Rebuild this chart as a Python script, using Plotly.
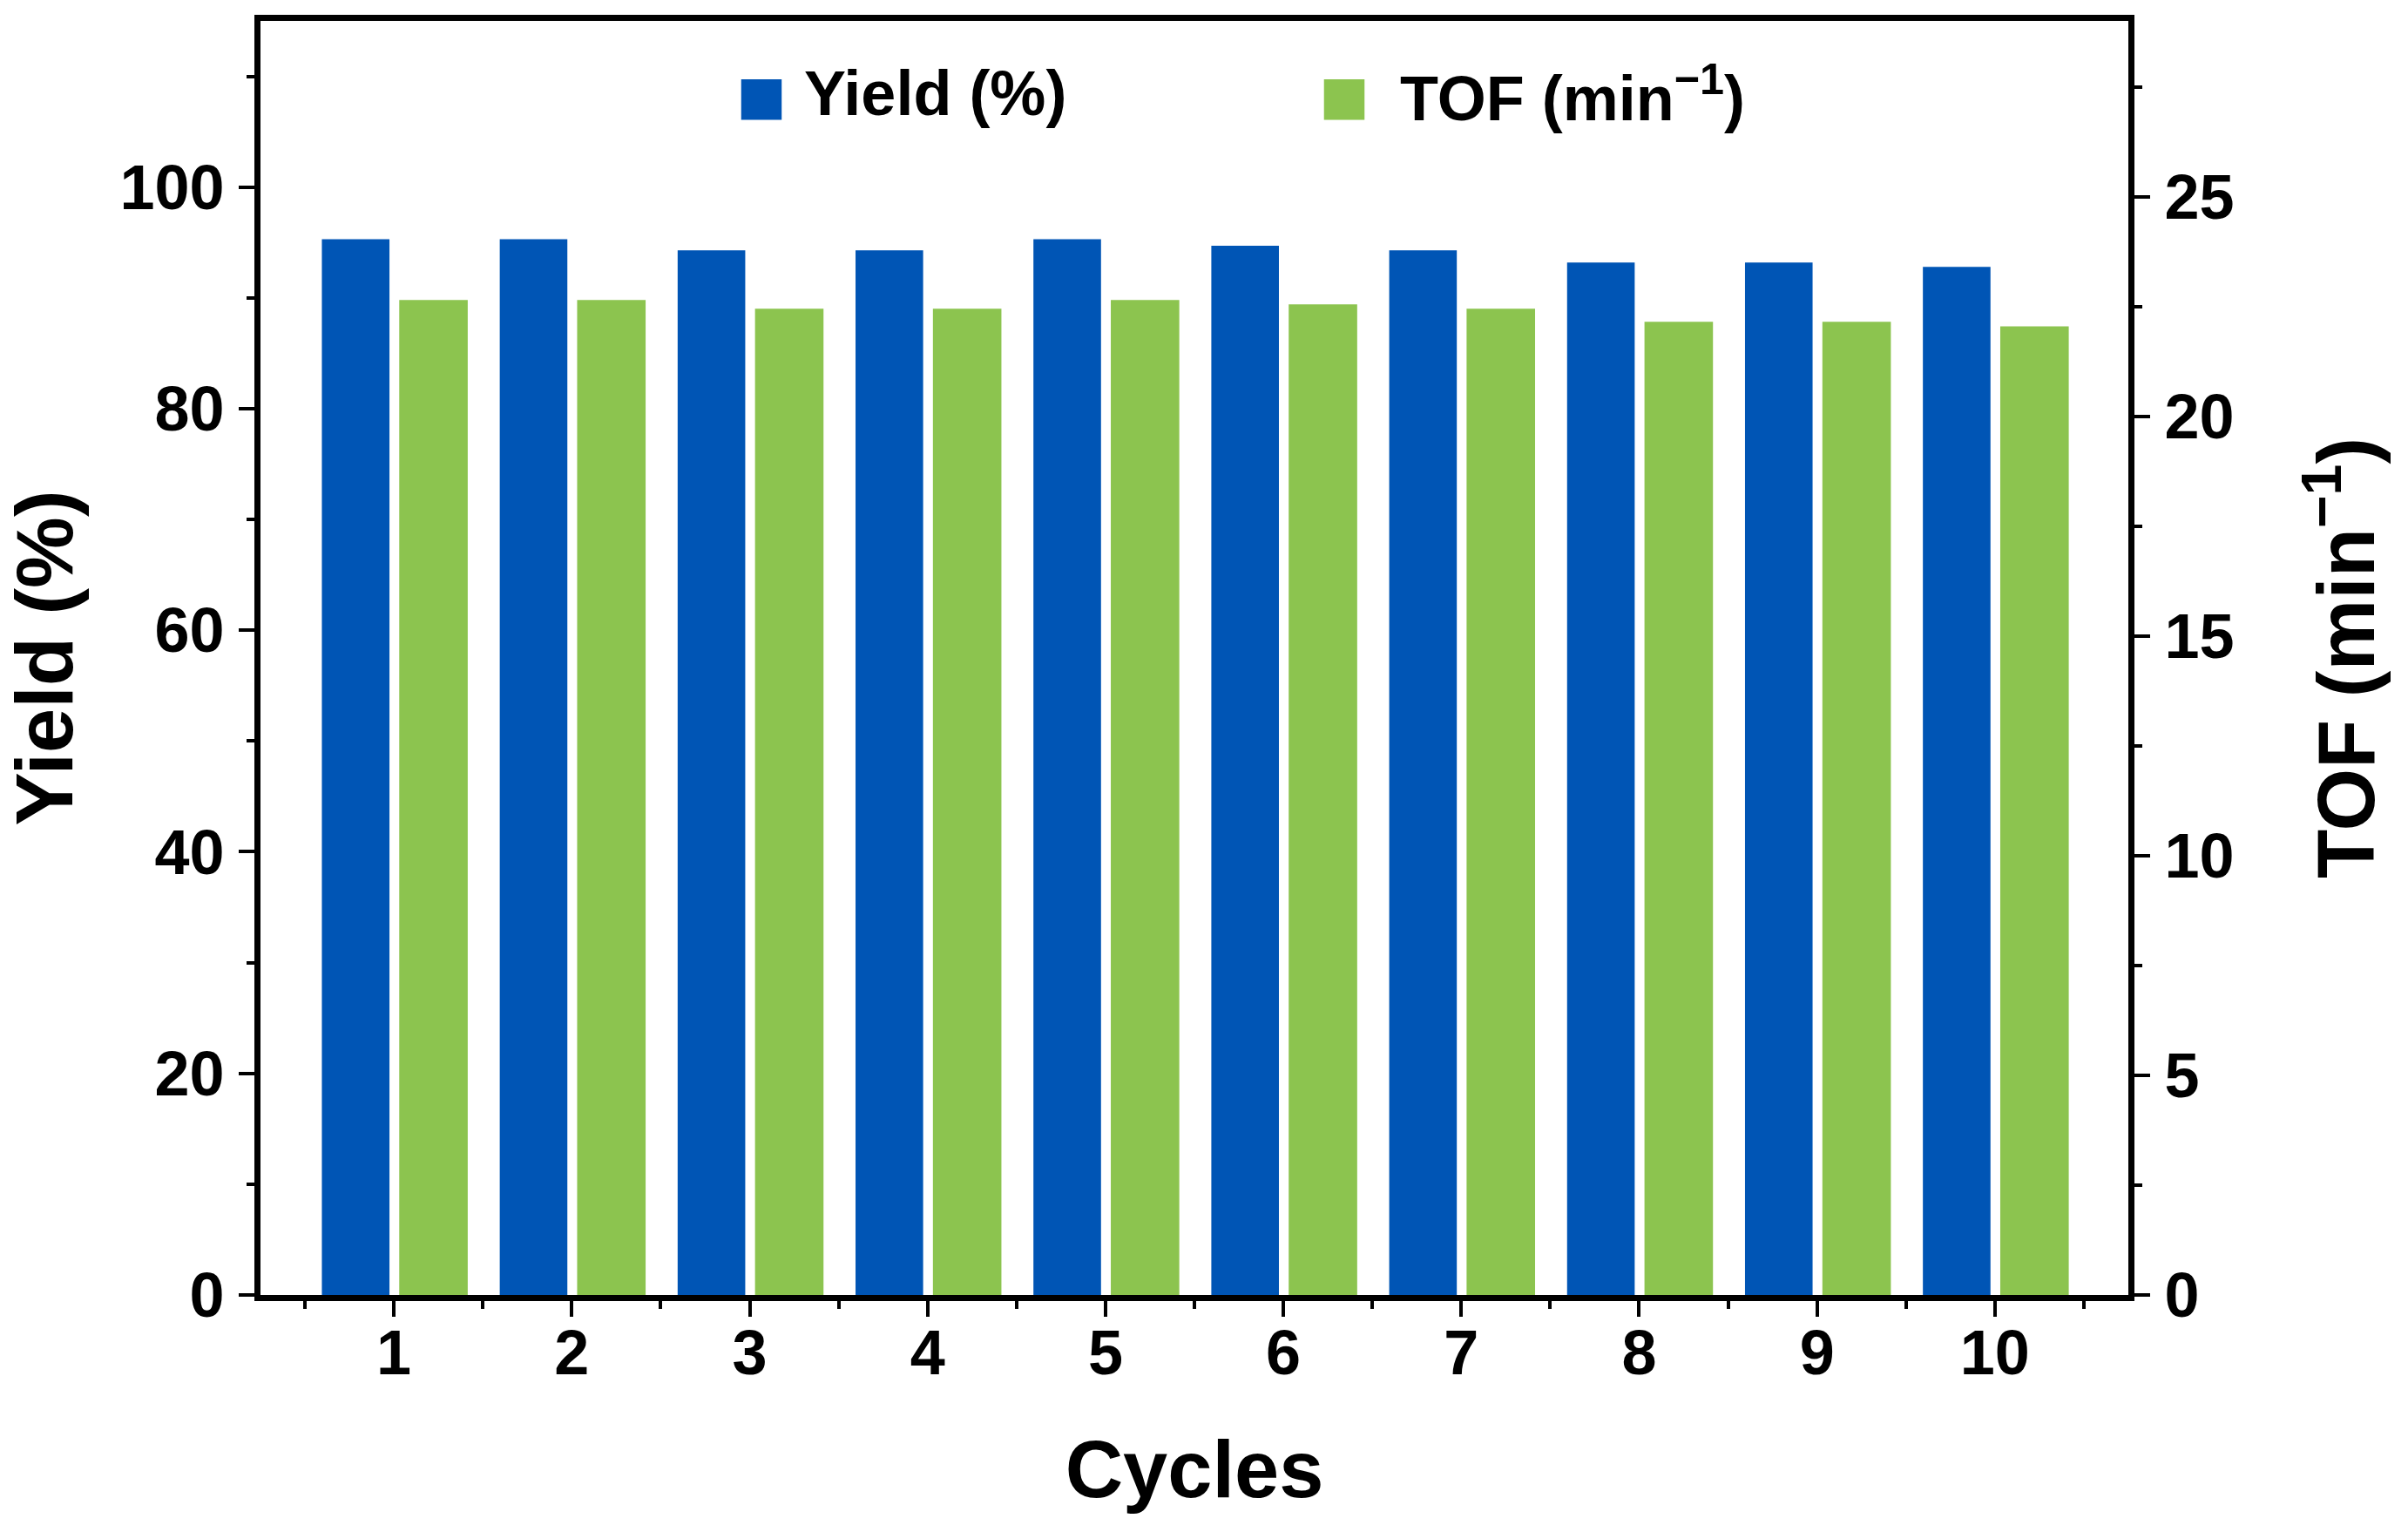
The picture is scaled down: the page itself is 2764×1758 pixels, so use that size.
import plotly.graph_objects as go

cycles = [1, 2, 3, 4, 5, 6, 7, 8, 9, 10]
yield_pct = [95.3, 95.3, 94.3, 94.3, 95.3, 94.7, 94.3, 93.2, 93.2, 92.8]
tof = [22.65, 22.65, 22.45, 22.45, 22.65, 22.55, 22.45, 22.15, 22.15, 22.05]
x_ticks = [1, 2, 3, 4, 5, 6, 7, 8, 9, 10]
y_ticks = [0, 20, 40, 60, 80, 100]
y2_ticks = [0, 5, 10, 15, 20, 25]
legend_labels = ["Yield (%)", "TOF (min<sup>−1</sup>)"]

BLUE = "#0055B5"
GREEN = "#8CC44F"
FONT = "Liberation Sans, Arial, sans-serif"

fig = go.Figure()
fig.add_trace(go.Bar(x=cycles, y=yield_pct, name=legend_labels[0], marker=dict(color=BLUE, line=dict(width=0)),
                     width=0.38, offset=-0.405, yaxis="y", showlegend=False))
fig.add_trace(go.Bar(x=cycles, y=tof, name=legend_labels[1], marker=dict(color=GREEN, line=dict(width=0)),
                     width=0.385, offset=0.03, yaxis="y2", showlegend=False))

tickfont = dict(family=FONT, size=72, color="black", weight="bold")
titlefont = dict(family=FONT, size=92, color="black", weight="bold")

fig.update_layout(
    width=2764, height=1758,
    margin=dict(l=299, r=321, t=24, b=272),
    paper_bgcolor="white", plot_bgcolor="white",
    barmode="overlay",
    xaxis=dict(range=[0.25, 10.75], tickmode="array", tickvals=x_ticks, ticktext=[str(v) for v in x_ticks],
               showline=True, linewidth=7, linecolor="black", mirror=True,
               ticks="outside", ticklen=18, tickwidth=4, tickcolor="black",
               minor=dict(tick0=0.5, dtick=1, ticks="outside", ticklen=9, tickwidth=4, tickcolor="black"),
               showgrid=False, zeroline=False, tickfont=tickfont, ticklabelstandoff=-20,
               title=dict(text="Cycles", font=titlefont, standoff=65)),
    yaxis=dict(range=[0, 115], tickmode="array", tickvals=y_ticks,
               showline=True, linewidth=7, linecolor="black",
               ticks="outside", ticklen=18, tickwidth=4, tickcolor="black",
               minor=dict(dtick=10, tick0=0, ticks="outside", ticklen=9, tickwidth=4, tickcolor="black"),
               showgrid=False, zeroline=False, tickfont=tickfont, ticklabelstandoff=2,
               title=dict(text="Yield (%)", font=titlefont, standoff=37)),
    yaxis2=dict(range=[0, 29], tickmode="array", tickvals=y2_ticks, overlaying="y", side="right",
                showline=True, linewidth=7, linecolor="black",
                ticks="outside", ticklen=18, tickwidth=4, tickcolor="black",
                minor=dict(dtick=2.5, tick0=0, ticks="outside", ticklen=9, tickwidth=4, tickcolor="black"),
                showgrid=False, zeroline=False, tickfont=tickfont, ticklabelstandoff=2,
                title=dict(text="TOF (min<sup>−1</sup>)", font=titlefont, standoff=100)),
)

legend_font = dict(family=FONT, size=72, color="black", weight="bold")
swatch_font = dict(family=FONT, size=96, weight="bold")
# legend swatches
fig.add_annotation(xref="paper", yref="paper", x=0.2682, y=0.9412, xanchor="center", yanchor="middle",
                   showarrow=False, font=dict(swatch_font, color=BLUE), text="■")
fig.add_annotation(xref="paper", yref="paper", x=0.5803, y=0.9412, xanchor="center", yanchor="middle",
                   showarrow=False, font=dict(swatch_font, color=GREEN), text="■")
# legend labels
fig.add_annotation(xref="paper", yref="paper", x=0.2900, y=0.9429, xanchor="left", yanchor="middle",
                   showarrow=False, font=legend_font, text=legend_labels[0])
fig.add_annotation(xref="paper", yref="paper", x=0.6091, y=0.9429, xanchor="left", yanchor="middle",
                   showarrow=False, font=legend_font, text=legend_labels[1])

fig.write_html("out.html", config={"displayModeBar": False},
               post_script="document.body.style.margin='0';document.body.style.overflow='hidden';")
